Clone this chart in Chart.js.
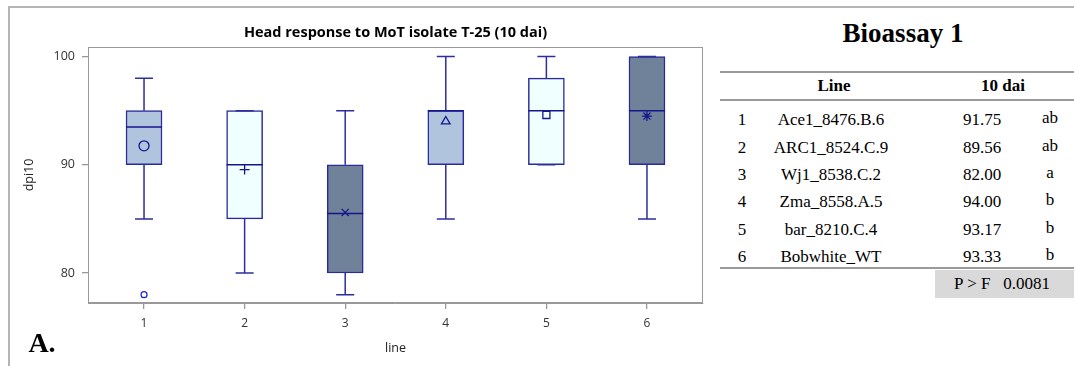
<!DOCTYPE html>
<html lang="en">
<head>
<meta charset="UTF-8">
<title>Head response to MoT isolate T-25 (10 dai)</title>
<style>
  body { margin:0; background:#fff; width:1074px; height:366px; overflow:hidden; position:relative; }
  .frame { position:absolute; left:8px; top:6px; right:0; bottom:0; border-top:2px solid #b4b4b4; border-left:2px solid #b4b4b4; }
  #chartBox { position:absolute; left:0; top:0; }
  .serif { position:absolute; font-family:'Liberation Serif','Times New Roman',serif; color:#000; white-space:pre; text-align:center; }
  .rule { position:absolute; left:720px; width:354px; height:2px; background:#9a9a9a; }
  .pbox { position:absolute; left:935px; top:270px; width:139px; height:28px; background:#d9d9d9; }
</style>
</head>
<body>
<div class="frame"></div>
<div id="chartBox"><canvas id="myChart" width="710" height="366"></canvas></div>
<div id="table"></div>

<script src="https://cdn.jsdelivr.net/npm/chart.js"></script>
<script>
// box plot values
const lines = [1, 2, 3, 4, 5, 6];
const whiskerLow = [85, 80, 78, 85, 90, 85];
const q1 = [90, 85, 80, 90, 90, 90];
const median = [93.5, 90, 85.5, 95, 95, 95];
const q3 = [95, 95, 90, 95, 98, 100];
const whiskerHigh = [98, 95, 95, 100, 100, 100];
const plotMeans = [91.75, 89.56, 85.6, 94, 94.6, 94.5];
const meanSymbols = ['circle', 'cross', 'crossRot', 'triangle', 'rect', 'star'];
const boxColors = ['#b0c4de', '#f0ffff', '#6f8299', '#b0c4de', '#f0ffff', '#6f8299'];
const outlierLine = [1];
const outlierValue = [78];
const yTicks = [80, 90, 100];

// table on the right
const lineNames = ['Ace1_8476.B.6', 'ARC1_8524.C.9', 'Wj1_8538.C.2', 'Zma_8558.A.5', 'bar_8210.C.4', 'Bobwhite_WT'];
const dai10 = ['91.75', '89.56', '82.00', '94.00', '93.17', '93.33'];
const groups = ['ab', 'ab', 'a', 'b', 'b', 'b'];
const pValue = '0.0081';

const navy = '#16168c';

// whiskers, caps and medians, drawn right after the boxes
const boxParts = {
  id: 'boxParts',
  afterDatasetDraw(chart, args) {
    if (args.index !== 0) return;
    const {ctx, scales: {x, y}} = chart;
    const bars = chart.getDatasetMeta(0).data;
    ctx.save();
    ctx.lineWidth = 1.5;
    lines.forEach((v, i) => {
      const cx = x.getPixelForValue(v);
      const half = bars[i].width / 2;
      const cap = half / 2;
      ctx.strokeStyle = '#2e2ea0';
      ctx.beginPath();
      ctx.moveTo(cx, y.getPixelForValue(q3[i]));
      ctx.lineTo(cx, y.getPixelForValue(whiskerHigh[i]));
      ctx.moveTo(cx, y.getPixelForValue(q1[i]));
      ctx.lineTo(cx, y.getPixelForValue(whiskerLow[i]));
      ctx.moveTo(cx - cap, y.getPixelForValue(whiskerHigh[i]));
      ctx.lineTo(cx + cap, y.getPixelForValue(whiskerHigh[i]));
      ctx.moveTo(cx - cap, y.getPixelForValue(whiskerLow[i]));
      ctx.lineTo(cx + cap, y.getPixelForValue(whiskerLow[i]));
      ctx.stroke();
      ctx.strokeStyle = navy;
      ctx.beginPath();
      ctx.moveTo(cx - half, y.getPixelForValue(median[i]));
      ctx.lineTo(cx + half, y.getPixelForValue(median[i]));
      ctx.stroke();
    });
    ctx.restore();
  },
  afterDraw(chart) {
    const {ctx, chartArea: a} = chart;
    ctx.save();
    ctx.strokeStyle = '#999';
    ctx.lineWidth = 1;
    ctx.strokeRect(a.left + 0.5, a.top + 0.5, a.width - 1, a.height - 1);
    ctx.restore();
  }
};

Chart.defaults.font.family = "'Open Sans', sans-serif";

new Chart(document.getElementById('myChart'), {
  type: 'bar',
  data: {
    datasets: [
      {
        type: 'bar',
        data: lines.map((v, i) => ({x: v, y: [q1[i], q3[i]]})),
        backgroundColor: boxColors,
        borderColor: '#2a2a9c',
        borderWidth: 1.5,
        borderSkipped: false,
        barThickness: 36,
        order: 3
      },
      {
        type: 'scatter',
        data: lines.map((v, i) => ({x: v, y: plotMeans[i]})),
        pointStyle: meanSymbols,
        pointRadius: 5,
        borderColor: navy,
        backgroundColor: 'rgba(0,0,0,0)',
        borderWidth: 1.3,
        order: 1
      },
      {
        type: 'scatter',
        data: outlierLine.map((v, i) => ({x: v, y: outlierValue[i]})),
        pointStyle: 'circle',
        pointRadius: 3,
        borderColor: '#2020c0',
        backgroundColor: 'rgba(0,0,0,0)',
        borderWidth: 1.2,
        order: 2
      }
    ]
  },
  options: {
    responsive: false,
    devicePixelRatio: 1,
    animation: false,
    layout: { padding: {left: 0, right: 7, top: 0, bottom: 0} },
    plugins: {
      legend: { display: false },
      tooltip: { enabled: false },
      title: {
        display: true,
        text: 'Head response to MoT isolate T-25 (10 dai)',
        fullSize: false,
        color: '#000',
        font: { size: 14.5, weight: 'bold' },
        padding: { top: 24, bottom: 5.6 }
      }
    },
    scales: {
      x: {
        type: 'linear',
        min: 0.443,
        max: 6.557,
        offset: false,
        afterBuildTicks: s => { s.ticks = lines.map(v => ({value: v})); },
        afterFit: s => { s.height = 63; },
        grid: { offset: false, drawOnChartArea: false, tickLength: 6, color: '#999', lineWidth: 1.3 },
        border: { color: '#999' },
        ticks: { color: '#333', padding: 7, font: { size: 12 } },
        title: { display: true, text: 'line', color: '#222', font: { size: 12.5 }, padding: { top: 0, bottom: 10 } }
      },
      y: {
        min: 77.23,
        max: 100.88,
        afterBuildTicks: s => { s.ticks = yTicks.map(v => ({value: v})); },
        afterFit: s => { s.width = 88; },
        grid: { drawOnChartArea: false, tickLength: 6, color: '#999', lineWidth: 1.3 },
        border: { color: '#999' },
        ticks: { color: '#333', padding: 7, font: { size: 12.5 } },
        title: { display: true, text: 'dpi10', color: '#222', font: { size: 12.5 }, padding: { top: 22, bottom: 0 } }
      }
    }
  },
  plugins: [boxParts]
});

// table and labels as html text
const table = document.getElementById('table');
function put(text, cx, top, size, weight, w) {
  const d = document.createElement('div');
  d.className = 'serif';
  d.textContent = text;
  d.style.left = (cx - w / 2) + 'px';
  d.style.width = w + 'px';
  d.style.top = top + 'px';
  d.style.fontSize = size + 'px';
  d.style.lineHeight = '27px';
  d.style.fontWeight = weight;
  table.appendChild(d);
}
function rule(top) {
  const d = document.createElement('div');
  d.className = 'rule';
  d.style.top = top + 'px';
  table.appendChild(d);
}
const pb = document.createElement('div');
pb.className = 'pbox';
table.appendChild(pb);

put('Bioassay 1', 903, 20, 27, 'bold', 200);
rule(71);
put('Line', 834, 72.4, 17, 'bold', 120);
put('10 dai', 1003, 72.4, 17, 'bold', 120);
rule(99);
lines.forEach((v, i) => {
  const top = 106.2 + 27.4 * i;
  put(String(v), 742, top, 17, 'normal', 30);
  put(lineNames[i], 831, top, 17, 'normal', 150);
  put(dai10[i], 982, top, 17, 'normal', 70);
  put(groups[i], 1050, top - 2, 17, 'normal', 40);
});
rule(267);
put('P > F   ' + pValue, 1002, 270.4, 17, 'normal', 130);
put('A.', 42, 329, 28, 'bold', 60);
</script>
</body>
</html>
